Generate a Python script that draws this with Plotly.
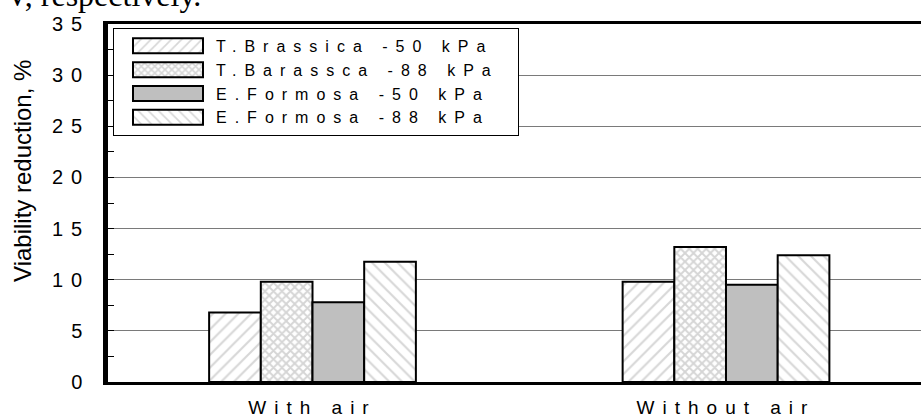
import plotly.graph_objects as go

# ---- data ----
categories = ["With air", "Without air"]
series_names = ["T.Brassica -50 kPa", "T.Barassca -88 kPa", "E.Formosa -50 kPa", "E.Formosa -88 kPa"]
t_brassica_50 = [6.8, 9.8]
t_barassca_88 = [9.8, 13.2]
e_formosa_50 = [7.8, 9.5]
e_formosa_88 = [11.75, 12.4]
y_tick_values = [0, 5, 10, 15, 20, 25, 30, 35]
y_tick_labels = ["0", "5", "10", "15", "20", "25", "30", "35"]
y_title = "Viability reduction, %"
header_text = "PV, respectively."

series_values = [t_brassica_50, t_barassca_88, e_formosa_50, e_formosa_88]

FONT = "Liberation Sans, Arial, sans-serif"
W, H = 921, 418
L, R, T, B = 108, 0, 24, 31
PH = H - T - B


def spaced(s, px):
    return f'<span style="letter-spacing:{px}px">{s}</span>'


styles = [
    dict(color="white", pattern=dict(shape="/", fgcolor="#b0b0b0", bgcolor="white", size=9, solidity=0.24)),
    dict(color="white", pattern=dict(shape="x", fgcolor="#acacac", bgcolor="white", size=6, solidity=0.55)),
    dict(color="#bfbfbf"),
    dict(color="white", pattern=dict(shape="\\", fgcolor="#b0b0b0", bgcolor="white", size=9, solidity=0.24)),
]

fig = go.Figure()
for name, vals, st in zip(series_names, series_values, styles):
    marker = dict(line=dict(color="black", width=2), **st)
    fig.add_trace(go.Bar(x=categories, y=vals, name=spaced(name, 8) + "&nbsp;&nbsp;&nbsp;", marker=marker))

pw = W - L - R
px_per_cat = 413.5
x0 = -0.5 + (L - 105.75) / px_per_cat
x1 = x0 + pw / px_per_cat

fig.update_layout(
    width=W, height=H,
    margin=dict(l=L, r=R, t=T, b=B, pad=0),
    paper_bgcolor="white", plot_bgcolor="white",
    barmode="group", bargap=0.5, bargroupgap=0,
    font=dict(family=FONT, color="black", size=18),
    showlegend=True,
    legend=dict(
        x=(113 - L) / pw, y=(387 - 28) / PH, xanchor="left", yanchor="top",
        bgcolor="white", bordercolor="black", borderwidth=1,
        font=dict(family=FONT, size=16, color="black"),
        itemwidth=92, tracegroupgap=0, traceorder="normal",
    ),
    xaxis=dict(
        type="category", range=[x0, x1],
        tickvals=categories, ticktext=[spaced(c, 8) for c in categories],
        tickfont=dict(family=FONT, size=19, color="black"),
        showline=True, linecolor="black", linewidth=3, mirror=True,
        ticks="", showgrid=False, zeroline=False, ticklabelstandoff=6,
    ),
    yaxis=dict(
        range=[0, 35], tickvals=y_tick_values,
        ticktext=[spaced(t, 8) for t in y_tick_labels],
        tickfont=dict(family=FONT, size=20, color="black"),
        showline=True, linecolor="black", linewidth=4.5, mirror=False,
        ticks="inside", ticklen=6, tickwidth=1, tickcolor="black",
        minor=dict(ticks="inside", dtick=2.5, ticklen=6, tickwidth=1, tickcolor="black", showgrid=False),
        showgrid=True, gridcolor="#7a7a7a", gridwidth=1,
        zeroline=False, ticklabelstandoff=9,
    ),
    annotations=[
        dict(text=y_title, textangle=-90, xref="paper", yref="paper",
             x=(23 - L) / pw, y=(387 - 173) / PH, xanchor="center", yanchor="middle",
             showarrow=False, font=dict(family=FONT, size=24, color="black")),
        dict(text=header_text, xref="paper", yref="paper",
             x=(203 - L) / pw, y=(387 - 15) / PH, xanchor="right", yanchor="bottom",
             showarrow=False, font=dict(family="Liberation Serif, Times New Roman, serif", size=32, color="black")),
    ],
)

post = """
document.body.style.margin = '0';
document.querySelectorAll('.legend .legendpoints path').forEach(function (p) {
    p.setAttribute('d', 'M38,7.5H-32V-7.5H38Z');
});
"""

fig.write_html("out.html", post_script=post, config={"displayModeBar": False})
